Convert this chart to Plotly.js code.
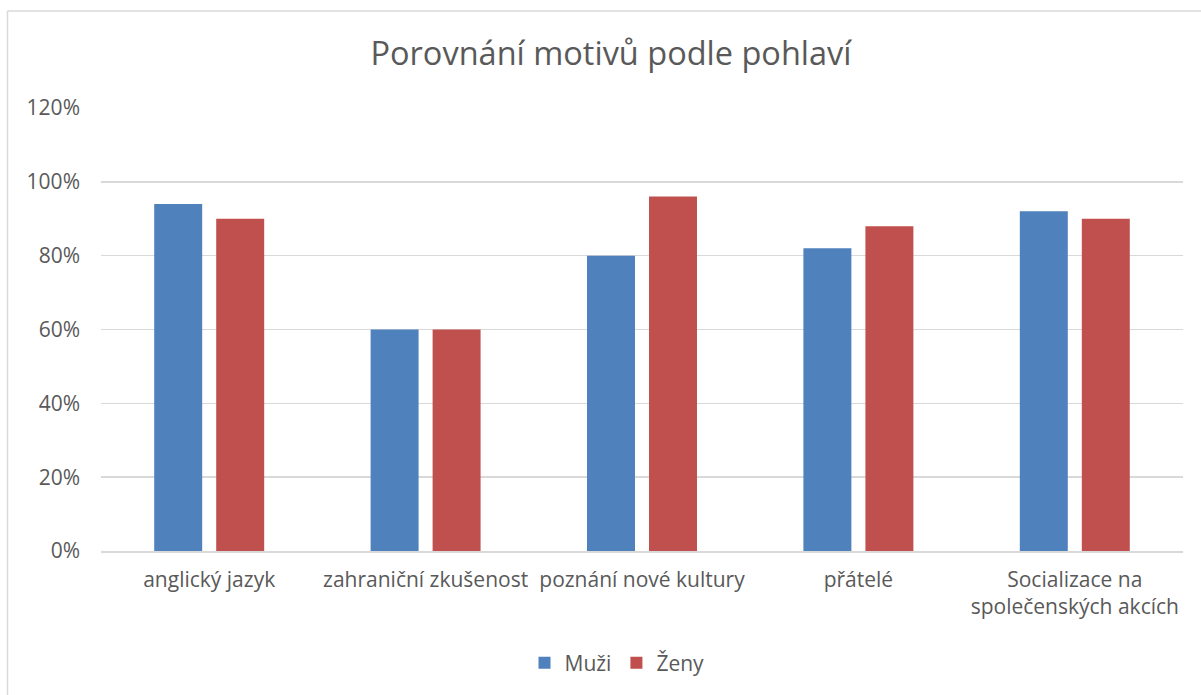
<!DOCTYPE html>
<html>
<head>
<meta charset="utf-8">
<script src="https://cdn.plot.ly/plotly-3.0.1.min.js"></script>
<style>html,body{margin:0;padding:0;background:#fff;}#chart{width:1201px;height:695px;}</style>
</head>
<body>
<div id="chart"></div>
<script>
const categories = ["anglický jazyk", "zahraniční zkušenost", "poznání nové kultury", "přátelé", "Socializace na<br>společenských akcích"];
const muzi = [0.94, 0.60, 0.80, 0.82, 0.92];
const zeny = [0.90, 0.60, 0.96, 0.88, 0.90];
const seriesNames = ["Muži", "Ženy"];
const titleText = "Porovnání motivů podle pohlaví";

const FONT = "Open Sans, Noto Sans, sans-serif";
const TXT = "#595959";
const GRID = "#D9D9D9";

const W = 1201, H = 695;
const L = 101, R = 1183, T = 108, B = 551;
const px = x => (x - L) / (R - L);
const py = y => (B - y) / (B - T);

const traces = [
  {type: "bar", name: seriesNames[0], x: categories, y: muzi, marker: {color: "#4F81BD"}, hoverinfo: "y"},
  {type: "bar", name: seriesNames[1], x: categories, y: zeny, marker: {color: "#C0504D"}, hoverinfo: "y"}
];

const layout = {
  width: W, height: H,
  paper_bgcolor: "#fff", plot_bgcolor: "#fff",
  margin: {l: L, r: W - R, t: T, b: H - B},
  font: {family: FONT, color: TXT, size: 21},
  title: {text: titleText, font: {family: FONT, size: 32.5, color: TXT}, x: px(611), xref: "paper", xanchor: "center", y: 1 - 54 / H, yref: "container", yanchor: "middle"},
  barmode: "group", bargap: 0.427, bargroupgap: 0.226,
  xaxis: {showgrid: false, showline: true, linecolor: GRID, linewidth: 1.5, ticks: "", tickfont: {size: 21, color: TXT}, ticklabelstandoff: 9, fixedrange: true},
  yaxis: {range: [0, 1.2], dtick: 0.2, tickformat: ".0%", showgrid: true, gridcolor: GRID, gridwidth: 1.5, zeroline: false, showline: false, ticks: "", tickfont: {size: 21, color: TXT}, ticklabelstandoff: 20, fixedrange: true},
  legend: {orientation: "h", x: 0.5 - 25 / (R - L), xanchor: "center", y: py(663), yanchor: "middle", font: {size: 21, color: TXT}, itemwidth: 30, traceorder: "normal"},
  shapes: [
    {type: "line", xref: "paper", yref: "paper", x0: px(7.5), x1: px(7.5), y0: py(11), y1: py(700), line: {color: GRID, width: 1.5}},
    {type: "line", xref: "paper", yref: "paper", x0: px(7.5), x1: px(1205), y0: py(11), y1: py(11), line: {color: GRID, width: 1.5}}
  ],
  showlegend: true
};

Plotly.newPlot("chart", traces, layout, {displayModeBar: false, staticPlot: true});
</script>
</body>
</html>
